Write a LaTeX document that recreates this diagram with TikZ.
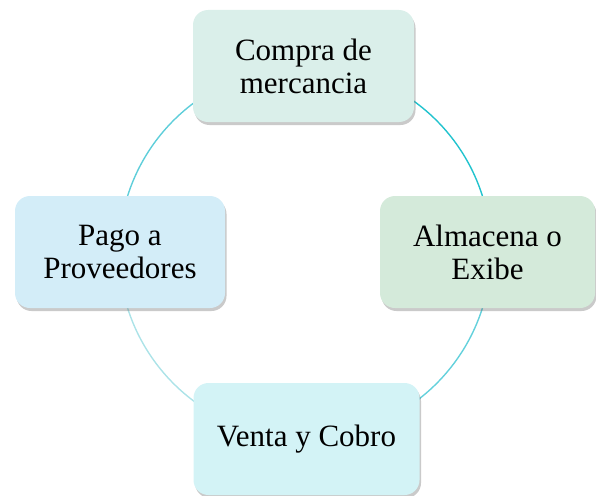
\documentclass[tikz,border=0pt]{standalone}
\usepackage{fontspec}
\setmainfont{Liberation Serif}
\usetikzlibrary{shadows}
\definecolor{fillTop}{RGB}{218,239,234}
\definecolor{fillRight}{RGB}{212,234,218}
\definecolor{fillBottom}{RGB}{211,243,246}
\definecolor{fillLeft}{RGB}{211,237,248}
\definecolor{arcTR}{RGB}{34,195,206}
\definecolor{arcTL}{RGB}{95,206,218}
\definecolor{arcBR}{RGB}{100,209,220}
\definecolor{arcBL}{RGB}{172,227,232}
\tikzset{
  cyclebox/.style={rounded corners=15pt, minimum height=112pt, align=center,
    inner sep=0pt, font=\fontsize{31}{33}\selectfont,
    drop shadow={shadow xshift=1.5pt, shadow yshift=-3pt, opacity=0.35, fill=black!60}},
  cyclearc/.style={line width=1.4pt}
}
\begin{document}
\begin{tikzpicture}[x=1pt,y=-1pt]
\useasboundingbox (0,0) rectangle (596,495);
\coordinate (c) at (305,252);
\begin{scope}
  \clip (c) rectangle (600,-10);
  \draw[cyclearc, arcTR] (c) circle[radius=186pt];
\end{scope}
\begin{scope}
  \clip (c) rectangle (-10,-10);
  \draw[cyclearc, arcTL] (c) circle[radius=186pt];
\end{scope}
\begin{scope}
  \clip (c) rectangle (600,510);
  \draw[cyclearc, arcBR] (c) circle[radius=186pt];
\end{scope}
\begin{scope}
  \clip (c) rectangle (-10,510);
  \draw[cyclearc, arcBL] (c) circle[radius=186pt];
\end{scope}
\node[cyclebox, fill=fillTop, minimum width=221pt] (compra) at (303.5,66) {Compra de\\mercancia};
\node[cyclebox, fill=fillRight, minimum width=215pt] (almacena) at (487.5,252) {Almacena o\\Exibe};
\node[cyclebox, fill=fillBottom, minimum width=226pt] (venta) at (306.5,439) {Venta y Cobro};
\node[cyclebox, fill=fillLeft, minimum width=210pt] (pago) at (120,252) {Pago a\\Proveedores};
\end{tikzpicture}
\end{document}
